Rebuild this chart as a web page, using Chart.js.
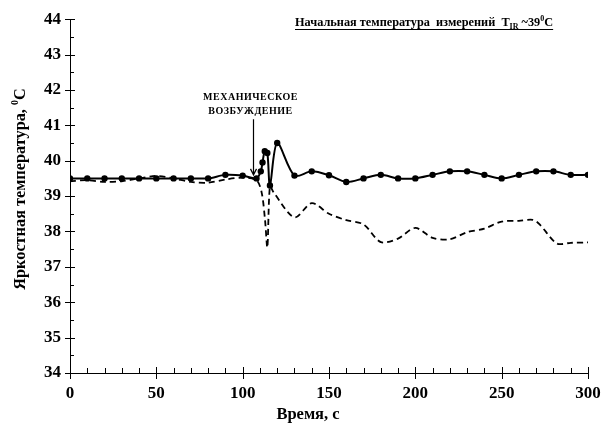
<!DOCTYPE html>
<html>
<head>
<meta charset="utf-8">
<script src="https://cdn.jsdelivr.net/npm/chart.js@4.4.0/dist/chart.umd.min.js"></script>
<style>
  html, body { margin: 0; padding: 0; background: #fff; }
  #wrap { width: 601px; height: 426px; position: relative; }
</style>
</head>
<body>
<div id="wrap"><canvas id="chart"></canvas></div>
<script>
// measured series (time in s, brightness temperature in degC)
const solidTimes = [0, 10, 20, 30, 40, 50, 60, 70, 80, 90, 100, 108, 110.5, 111.5, 112.8, 114.3, 115.8, 120,
    130, 140, 150, 160, 170, 180, 190, 200, 210, 220, 230, 240, 250, 260, 270, 280, 290, 300];
const solidTemps = [39.5, 39.5, 39.5, 39.5, 39.5, 39.5, 39.5, 39.5, 39.5, 39.6, 39.58, 39.5, 39.7, 39.95, 40.27, 40.22, 39.3, 40.5,
    39.58, 39.7, 39.59, 39.4, 39.5, 39.6, 39.5, 39.5, 39.6, 39.7, 39.7, 39.6, 39.5, 39.6, 39.7, 39.7, 39.6, 39.6];

const dashedTimes = [0, 10, 20, 30, 40, 50, 60, 70, 80, 90, 100, 108, 111, 113, 114.3, 115.8, 118,
    130, 140, 150, 160, 170, 180, 190, 200, 210, 220, 230, 240, 250, 260, 268, 272, 282, 290, 300];
const dashedTemps = [39.42, 39.45, 39.4, 39.42, 39.5, 39.57, 39.5, 39.4, 39.38, 39.47, 39.52, 39.45, 39.1, 38.3, 37.55, 39.28, 39.1,
    38.4, 38.8, 38.5, 38.32, 38.2, 37.7, 37.8, 38.1, 37.82, 37.78, 37.98, 38.08, 38.28, 38.3, 38.33, 38.2, 37.66, 37.68, 37.69];

const xTicks = [0, 50, 100, 150, 200, 250, 300];
const yTicks = [34, 35, 36, 37, 38, 39, 40, 41, 42, 43, 44];
const eventTime = 106;

const serif = '"Liberation Serif", "Times New Roman", serif';

function toPoints(xs, ys) {
    return xs.map((x, i) => ({ x: x, y: ys[i] }));
}

// axis ticks crossing the axis lines, axis titles, annotation and header
const decorPlugin = {
    id: 'decor',
    afterDraw(chart) {
        const ctx = chart.ctx;
        const xs = chart.scales.x;
        const ys = chart.scales.y;
        const x0 = xs.left;
        const y0 = ys.bottom;
        ctx.save();
        ctx.strokeStyle = '#000';
        ctx.lineWidth = 1;
        ctx.beginPath();
        for (let v = 34; v <= 44; v += 0.5) {
            const py = Math.round(ys.getPixelForValue(v)) + 0.5;
            if (Number.isInteger(v)) {
                ctx.moveTo(x0 - 5, py); ctx.lineTo(x0 + 5, py);
            } else {
                ctx.moveTo(x0, py); ctx.lineTo(x0 + 4, py);
            }
        }
        for (let t = 0; t <= 300; t += 10) {
            const px = Math.round(xs.getPixelForValue(t)) + 0.5;
            if (t % 50 === 0) {
                ctx.moveTo(px, y0 - 6); ctx.lineTo(px, y0 + 6);
            } else {
                ctx.moveTo(px, y0 - 5); ctx.lineTo(px, y0);
            }
        }
        ctx.stroke();

        // axis titles
        ctx.fillStyle = '#000';
        ctx.textAlign = 'center';
        ctx.textBaseline = 'alphabetic';
        ctx.font = 'bold 16.5px ' + serif;
        ctx.fillText('Время, с', 308, 419);

        ctx.save();
        ctx.translate(25, 189);
        ctx.rotate(-Math.PI / 2);
        ctx.font = 'bold 16.3px ' + serif;
        const yMain = 'Яркостная температура, ';
        const wMain = ctx.measureText(yMain).width;
        ctx.font = 'bold 10px ' + serif;
        const wSup = ctx.measureText('0').width;
        ctx.font = 'bold 16.3px ' + serif;
        const wC = ctx.measureText('C').width;
        let tx = -(wMain + wSup + wC) / 2;
        ctx.textAlign = 'left';
        ctx.fillText(yMain, tx, 0);
        tx += wMain;
        ctx.font = 'bold 10px ' + serif;
        ctx.fillText('0', tx, -7);
        tx += wSup;
        ctx.font = 'bold 16.3px ' + serif;
        ctx.fillText('C', tx, 0);
        ctx.restore();

        // arrow for the mechanical excitation
        const ax = Math.round(xs.getPixelForValue(eventTime)) + 0.5;
        const aTop = ys.getPixelForValue(41.17);
        const aTip = ys.getPixelForValue(39.6);
        ctx.lineWidth = 1.2;
        ctx.beginPath();
        ctx.moveTo(ax, aTop); ctx.lineTo(ax, aTip);
        ctx.moveTo(ax - 3, aTip - 6); ctx.lineTo(ax, aTip); ctx.lineTo(ax + 3, aTip - 6);
        ctx.stroke();

        ctx.font = 'bold 10px ' + serif;
        ctx.textAlign = 'center';
        ctx.textBaseline = 'middle';
        ctx.letterSpacing = '0.5px';
        ctx.fillText('МЕХАНИЧЕСКОЕ', ax - 3, 97);
        ctx.fillText('ВОЗБУЖДЕНИЕ', ax - 3, 111);
        ctx.letterSpacing = '0px';

        // header
        ctx.textAlign = 'left';
        ctx.textBaseline = 'alphabetic';
        let hx = 295;
        const hy = 26;
        ctx.font = 'bold 12.3px ' + serif;
        const part1 = 'Начальная температура  измерений  T';
        ctx.fillText(part1, hx, hy);
        hx += ctx.measureText(part1).width;
        ctx.font = 'bold 8px ' + serif;
        ctx.fillText('IR', hx, hy + 3);
        hx += ctx.measureText('IR').width;
        ctx.font = 'bold 12.3px ' + serif;
        ctx.fillText(' ~39', hx, hy);
        hx += ctx.measureText(' ~39').width;
        ctx.font = 'bold 8px ' + serif;
        ctx.fillText('0', hx, hy - 5);
        hx += ctx.measureText('0').width;
        ctx.font = 'bold 12.3px ' + serif;
        ctx.fillText('C', hx, hy);
        hx += ctx.measureText('C').width;
        ctx.lineWidth = 1;
        ctx.beginPath();
        ctx.moveTo(295, hy + 3.5); ctx.lineTo(hx, hy + 3.5);
        ctx.stroke();
        ctx.restore();
    }
};

new Chart(document.getElementById('chart'), {
    type: 'line',
    data: {
        datasets: [{
            label: 'solid',
            data: toPoints(solidTimes, solidTemps),
            borderColor: '#000',
            backgroundColor: '#000',
            borderWidth: 2,
            pointRadius: 2.2,
            pointHoverRadius: 2.2,
            tension: 0.3,
            fill: false
        }, {
            label: 'dashed',
            data: toPoints(dashedTimes, dashedTemps),
            borderColor: '#000',
            borderWidth: 1.8,
            borderDash: [6, 4],
            pointRadius: 0,
            tension: 0.3,
            fill: false
        }]
    },
    options: {
        responsive: true,
        maintainAspectRatio: false,
        animation: false,
        layout: { padding: { top: 15, right: 0, left: 0, bottom: 0 } },
        plugins: {
            legend: { display: false },
            tooltip: { enabled: false }
        },
        scales: {
            x: {
                type: 'linear',
                min: 0,
                max: 300,
                afterBuildTicks: (scale) => { scale.ticks = xTicks.map(v => ({ value: v })); },
                afterFit: (scale) => {
                    scale.height = 53;
                    scale.paddingRight = 13;
                    scale.paddingLeft = 0;
                },
                grid: { display: false, drawTicks: false },
                border: { display: true, color: '#000', width: 1 },
                ticks: {
                    color: '#000',
                    padding: 10,
                    maxRotation: 0,
                    font: { family: serif, size: 17, weight: 'bold' }
                }
            },
            y: {
                min: 34,
                max: 44,
                afterBuildTicks: (scale) => { scale.ticks = yTicks.map(v => ({ value: v })); },
                afterFit: (scale) => { scale.width = 70; },
                grid: { display: false, drawTicks: false },
                border: { display: true, color: '#000', width: 1 },
                ticks: {
                    color: '#000',
                    padding: 9,
                    font: { family: serif, size: 17, weight: 'bold' }
                }
            }
        }
    },
    plugins: [decorPlugin]
});
</script>
</body>
</html>
